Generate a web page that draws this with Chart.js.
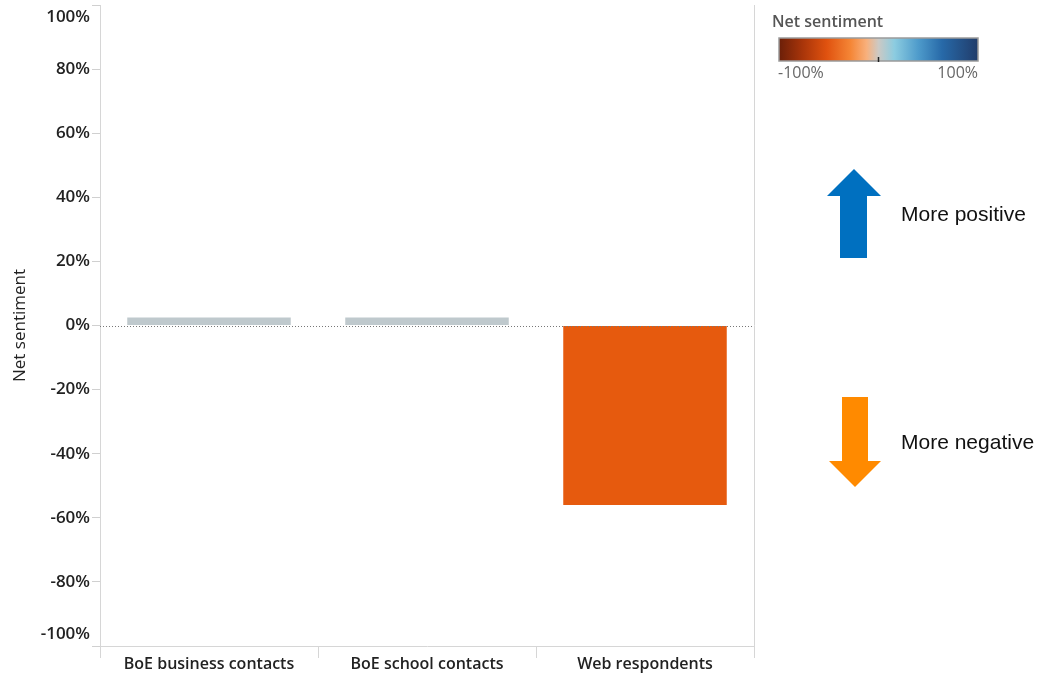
<!DOCTYPE html>
<html>
<head>
<meta charset="utf-8">
<script src="https://cdn.jsdelivr.net/npm/chart.js@4.4.1/dist/chart.umd.min.js"></script>
<style>
  html, body { margin: 0; padding: 0; background: #ffffff; }
  #wrap { position: relative; width: 1038px; height: 675px; }
</style>
</head>
<body>
<div id="wrap"><canvas id="c" width="1038" height="675"></canvas></div>
<script>
// ---- data ----
const categories = ["BoE business contacts", "BoE school contacts", "Web respondents"];
const netSentiment = [2.5, 2.5, -56];
const barColors = ["#BFC9CD", "#BFC9CD", "#E65A0E"];
const yTicks = [-100, -80, -60, -40, -20, 0, 20, 40, 60, 80, 100];
const legendTitle = "Net sentiment";
const legendMinLabel = "-100%";
const legendMaxLabel = "100%";
const gradientStops = [
  [0.00, "#6B1F08"], [0.12, "#A9350A"], [0.24, "#E0520F"], [0.36, "#F58636"],
  [0.44, "#F8B07C"], [0.50, "#CCC9C4"], [0.58, "#8CCCE0"], [0.70, "#4E9BCB"],
  [0.82, "#2769A8"], [1.00, "#213C6A"]
];
const noteUp = "More positive";
const noteDown = "More negative";

const FONT = "'Open Sans', sans-serif";

const extras = {
  id: 'extras',
  beforeDraw(chart) {
    // keep the end labels of the value axis inside the frame
    const s = chart.scales.y;
    const items = s.getLabelItems();
    if (items.length && !s._edgeShifted) {
      items[0].options.translation[1] -= 12;
      items[items.length - 1].options.translation[1] += 12;
      s._edgeShifted = true;
    }
  },
  afterDatasetsDraw(chart) {
    const ctx = chart.ctx;
    const a = chart.chartArea;
    const y = chart.scales.y;
    ctx.save();
    ctx.strokeStyle = '#d6d6d6';
    ctx.lineWidth = 1;
    ctx.beginPath();
    ctx.moveTo(Math.round(a.right) + 0.5, a.top);
    ctx.lineTo(Math.round(a.right) + 0.5, a.bottom);
    ctx.stroke();
    const y0 = Math.round(y.getPixelForValue(0)) + 0.5;
    ctx.strokeStyle = '#777';
    ctx.setLineDash([1, 2]);
    ctx.beginPath();
    ctx.moveTo(a.left, y0);
    ctx.lineTo(a.right, y0);
    ctx.stroke();
    ctx.setLineDash([]);
    ctx.restore();
  },
  afterDraw(chart) {
    const ctx = chart.ctx;
    ctx.save();
    ctx.fillStyle = '#555';
    ctx.font = "600 16px " + FONT;
    ctx.textBaseline = 'middle';
    ctx.textAlign = 'left';
    ctx.fillText(legendTitle, 772, 22);
    const gx = 779, gy = 38, gw = 199, gh = 23;
    const g = ctx.createLinearGradient(gx, 0, gx + gw, 0);
    gradientStops.forEach(s => g.addColorStop(s[0], s[1]));
    ctx.fillStyle = g;
    ctx.fillRect(gx, gy, gw, gh);
    ctx.strokeStyle = '#9a9a9a';
    ctx.lineWidth = 1.5;
    ctx.strokeRect(gx, gy, gw, gh);
    ctx.strokeStyle = '#222';
    ctx.lineWidth = 1.5;
    ctx.beginPath();
    ctx.moveTo(gx + gw / 2, gy + gh - 4);
    ctx.lineTo(gx + gw / 2, gy + gh + 1);
    ctx.stroke();
    ctx.fillStyle = '#666';
    ctx.font = "16px " + FONT;
    ctx.textAlign = 'left';
    ctx.fillText(legendMinLabel, gx - 1, 73);
    ctx.textAlign = 'right';
    ctx.fillText(legendMaxLabel, gx + gw, 73);

    ctx.fillStyle = '#0070C0';
    ctx.beginPath();
    ctx.moveTo(854, 169);
    ctx.lineTo(881, 196);
    ctx.lineTo(867, 196);
    ctx.lineTo(867, 258);
    ctx.lineTo(840, 258);
    ctx.lineTo(840, 196);
    ctx.lineTo(827, 196);
    ctx.closePath();
    ctx.fill();
    ctx.fillStyle = '#FF8A00';
    ctx.beginPath();
    ctx.moveTo(842, 397);
    ctx.lineTo(868, 397);
    ctx.lineTo(868, 461);
    ctx.lineTo(881, 461);
    ctx.lineTo(855, 487);
    ctx.lineTo(829, 461);
    ctx.lineTo(842, 461);
    ctx.closePath();
    ctx.fill();
    ctx.fillStyle = '#111';
    ctx.font = "21px 'Liberation Sans', Arial, sans-serif";
    ctx.textAlign = 'left';
    ctx.textBaseline = 'middle';
    ctx.fillText(noteUp, 901, 215);
    ctx.fillText(noteDown, 901, 443);
    ctx.restore();
  }
};

new Chart(document.getElementById('c'), {
  type: 'bar',
  data: {
    labels: categories,
    datasets: [{
      data: netSentiment,
      backgroundColor: barColors,
      borderWidth: 0,
      barPercentage: 0.75,
      categoryPercentage: 1.0
    }]
  },
  options: {
    responsive: false,
    animation: false,
    devicePixelRatio: 1,
    layout: { autoPadding: false, padding: { top: 5, right: 284, bottom: 0, left: 0 } },
    plugins: { legend: { display: false }, tooltip: { enabled: false } },
    scales: {
      x: {
        offset: true,
        grid: { offset: true, drawOnChartArea: false, tickLength: 12, color: '#d6d6d6' },
        border: { color: '#d6d6d6' },
        ticks: { color: '#222', font: { family: FONT, size: 16, weight: '600' }, padding: -3, maxRotation: 0 },
        afterFit(s) { s.height = 29; s.paddingLeft = 0; s.paddingRight = 0; }
      },
      y: {
        min: -100, max: 100,
        afterBuildTicks(s) { s.ticks = yTicks.map(v => ({ value: v })); },
        grid: { drawOnChartArea: false, tickLength: 8, color: '#d0d0d0' },
        border: { color: '#d6d6d6' },
        ticks: {
          color: '#222', padding: 2,
          font: { family: FONT, size: 17, weight: '600' },
          callback: v => v + '%'
        },
        title: {
          display: true, text: 'Net sentiment', color: '#222',
          font: { family: FONT, size: 17, weight: '400' },
          padding: { top: 10, bottom: 0 }
        },
        afterFit(s) { s.width = 100; s.paddingTop = 0; s.paddingBottom = 0; }
      }
    }
  },
  plugins: [extras]
});
</script>
</body>
</html>
